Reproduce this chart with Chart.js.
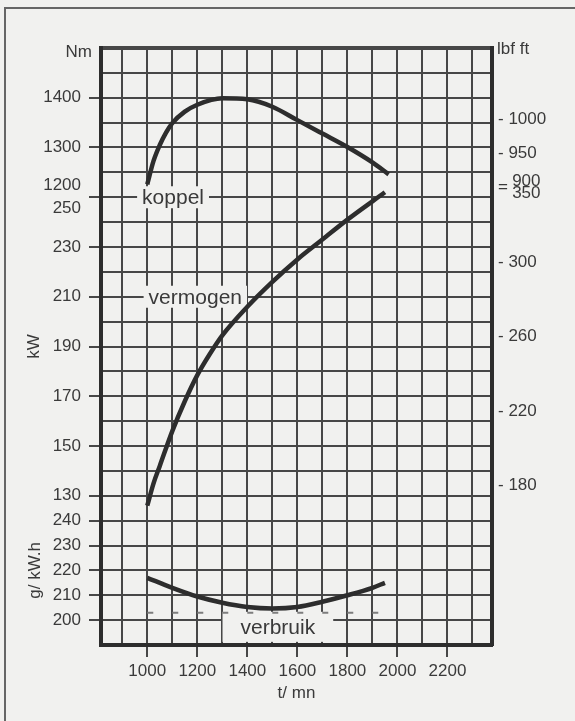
<!DOCTYPE html>
<html lang="nl">
<head>
<meta charset="UTF-8" />
<title>Koppel, vermogen en verbruik</title>
<script src="https://cdn.jsdelivr.net/npm/chart.js@4"></script>
<style>
  html, body { margin: 0; padding: 0; background: #f1f1ef; }
  .page { position: relative; width: 575px; height: 721px; overflow: hidden; }
  .frame { position: absolute; left: 4px; top: 7px; width: 600px; height: 740px;
           border-top: 2px solid #666; border-left: 2px solid #666; }
  canvas { position: absolute; left: 0; top: 0; }
</style>
</head>
<body>
<div class="page">
  <div class="frame"></div>
  <canvas id="chart" width="575" height="721"></canvas>
</div>
<script>
// curves (rpm -> value)
const koppelRpm = [1000, 1025, 1050, 1075, 1100, 1150, 1200, 1300, 1400, 1500, 1600, 1700, 1800, 1900, 1965];
const koppelNm = [1226, 1273, 1305, 1330, 1349, 1372, 1386, 1399, 1397, 1382, 1355, 1328, 1301, 1270, 1246];
const vermogenRpm = [1000, 1025, 1050, 1100, 1150, 1200, 1250, 1300, 1400, 1500, 1600, 1700, 1800, 1950];
const vermogenKw = [126, 135, 142, 156, 168, 178.5, 187, 194.5, 206, 216, 225, 233, 241, 252];
const verbruikRpm = [1000, 1100, 1200, 1300, 1400, 1500, 1600, 1700, 1800, 1900, 1950];
const verbruikG = [217, 213, 209.5, 207, 205.3, 204.7, 205.3, 207.4, 210, 213, 215];
const refRpm = [1000, 2000];
const refG = [203, 203];

// tick labels
const rpmTicks = [1000, 1200, 1400, 1600, 1800, 2000, 2200];
const nmTicks = [1200, 1300, 1400];
const kwTicks = [130, 150, 170, 190, 210, 230, 250];
const gTicks = [200, 210, 220, 230, 240];
const lbfTicks = [1000, 950];
const hpTicks = [300, 260, 220, 180];
const sharedTick = [900, 350]; // printed together on one mark

// axis ranges (all share the same 24 row grid)
const ROWS = 24;
const rpmRange = [815, 2378];
const nmRange = [300, 1500];
const kwRange = [70, 310];
const gRange = [190, 430];
const NM_PER_LBFFT = 1.3558;
const KW_PER_HP = 0.7457;

const INK = "#2d2d2d";
const GRID = "#474747";
const TEXT = "#3a3a3a";
const BG = "#f1f1ef";
const FONT = "'Liberation Sans', Arial, sans-serif";

function row(v, r) {
  return Math.round(((v - r[0]) / (r[1] - r[0])) * ROWS * 100) / 100;
}

const leftLabels = {};
function addLeft(j, text) {
  (leftLabels[j] = leftLabels[j] || []).push(text);
}
nmTicks.forEach((v) => addLeft(row(v, nmRange), String(v)));
kwTicks.forEach((v) => addLeft(row(v, kwRange), String(v)));
gTicks.forEach((v) => addLeft(row(v, gRange), String(v)));

const sharedRow = row(sharedTick[0] * NM_PER_LBFFT, nmRange);
const pad = "   ";
const rightTicks = [
  ...lbfTicks.map((v) => ({ j: row(v * NM_PER_LBFFT, nmRange), label: "- " + v })),
  ...hpTicks.map((v) => ({ j: row(v * KW_PER_HP, kwRange), label: "- " + v })),
  { j: sharedRow, label: "=" },
  { j: sharedRow, label: [pad + sharedTick[0], pad + sharedTick[1]] },
].sort((a, b) => a.j - b.j);

function pts(xs, ys) {
  return xs.map((x, i) => ({ x: x, y: ys[i] }));
}

const curveLabels = [
  { text: "koppel", rpm: 1103, value: 1200, axis: "yNm", padX: 5, padY: 11 },
  { text: "vermogen", rpm: 1192, value: 210, axis: "yKw", padX: 5, padY: 11 },
  { text: "verbruik", rpm: 1522, value: 197.3, axis: "yG", padX: 18, padY: 15 },
];

const labelPlugin = {
  id: "curveLabels",
  beforeDatasetsDraw(chart) {
    const { ctx, scales } = chart;
    ctx.save();
    ctx.font = "21px " + FONT;
    ctx.textAlign = "center";
    ctx.textBaseline = "middle";
    curveLabels.forEach((l) => {
      const x = scales.x.getPixelForValue(l.rpm);
      const y = scales[l.axis].getPixelForValue(l.value);
      const w = ctx.measureText(l.text).width;
      ctx.fillStyle = BG;
      ctx.fillRect(x - w / 2 - l.padX, y - l.padY, w + 2 * l.padX, 2 * l.padY);
      ctx.fillStyle = TEXT;
      ctx.fillText(l.text, x, y + 1);
    });
    ctx.restore();
  },
  afterDraw(chart) {
    const { ctx, chartArea, scales } = chart;
    ctx.save();
    ctx.font = "17px " + FONT;
    ctx.fillStyle = TEXT;
    ctx.textBaseline = "middle";
    ctx.textAlign = "right";
    ctx.fillText("Nm", chartArea.left - 9, chartArea.top + 4);
    ctx.textAlign = "left";
    ctx.fillText("lbf ft", chartArea.right + 5, chartArea.top + 1);

    const rot = (text, x, y) => {
      ctx.save();
      ctx.translate(x, y);
      ctx.rotate(-Math.PI / 2);
      ctx.textAlign = "center";
      ctx.fillText(text, 0, 0);
      ctx.restore();
    };
    rot("kW", chartArea.left - 67, scales.yKw.getPixelForValue(190));
    rot("g/ kW.h", chartArea.left - 66, scales.yG.getPixelForValue(220));
    ctx.restore();
  },
};

const lineStyle = {
  borderColor: INK,
  borderWidth: 4.5,
  pointRadius: 0,
  fill: false,
  cubicInterpolationMode: "monotone",
};

new Chart(document.getElementById("chart"), {
  type: "line",
  data: {
    datasets: [
      { label: "koppel", data: pts(koppelRpm, koppelNm), yAxisID: "yNm", ...lineStyle },
      { label: "vermogen", data: pts(vermogenRpm, vermogenKw), yAxisID: "yKw", ...lineStyle },
      { label: "verbruik", data: pts(verbruikRpm, verbruikG), yAxisID: "yG", ...lineStyle },
      {
        label: "ref",
        data: pts(refRpm, refG),
        yAxisID: "yG",
        borderColor: "#7d7d7d",
        borderWidth: 2,
        borderDash: [6, 19],
        pointRadius: 0,
        tension: 0,
      },
    ],
  },
  options: {
    responsive: false,
    animation: false,
    layout: { padding: { top: 48, left: 0, right: 0, bottom: 0 } },
    plugins: { legend: { display: false }, tooltip: { enabled: false } },
    scales: {
      x: {
        type: "linear",
        position: "bottom",
        min: rpmRange[0],
        max: rpmRange[1],
        afterFit: (s) => { s.height = 76; },
        ticks: {
          stepSize: 100,
          includeBounds: false,
          autoSkip: false,
          maxRotation: 0,
          padding: 4,
          color: TEXT,
          font: { family: FONT, size: 17 },
          callback: (v) => (rpmTicks.includes(v) ? String(v) : ""),
        },
        grid: {
          color: GRID,
          lineWidth: 2,
          tickLength: 12,
          tickWidth: 2,
          tickColor: (c) => (c.tick && rpmTicks.includes(c.tick.value) ? GRID : "transparent"),
        },
        border: { display: true, color: INK, width: 4 },
        title: {
          display: true,
          text: "t/ mn",
          color: TEXT,
          font: { family: FONT, size: 17 },
          padding: { top: 0, bottom: 17 },
        },
      },
      yGrid: {
        type: "linear",
        position: "left",
        min: 0,
        max: ROWS,
        afterFit: (s) => { s.width = 101; },
        ticks: {
          stepSize: 1,
          autoSkip: false,
          padding: 8,
          color: TEXT,
          font: { family: FONT, size: 17, lineHeight: 1.35 },
          callback: (v) => {
            const l = leftLabels[v];
            return l ? (l.length > 1 ? l : l[0]) : "";
          },
        },
        grid: {
          color: GRID,
          lineWidth: (c) => (c.tick && c.tick.value === ROWS ? 4 : 2),
          tickLength: 12,
          tickWidth: 2,
          tickColor: (c) => (c.tick && leftLabels[c.tick.value] ? GRID : "transparent"),
        },
        border: { display: true, color: INK, width: 4 },
      },
      yRight: {
        type: "linear",
        position: "right",
        min: 0,
        max: ROWS,
        afterFit: (s) => { s.width = 83; },
        afterBuildTicks: (s) => { s.ticks = rightTicks.map((t) => ({ value: t.j })); },
        ticks: {
          autoSkip: false,
          padding: 6,
          color: TEXT,
          font: { family: FONT, size: 17, lineHeight: 0.72 },
          callback: (v, i) => rightTicks[i].label,
        },
        grid: { drawOnChartArea: false, drawTicks: false },
        border: { display: true, color: INK, width: 4 },
      },
      yNm: { display: false, min: nmRange[0], max: nmRange[1] },
      yKw: { display: false, min: kwRange[0], max: kwRange[1] },
      yG: { display: false, min: gRange[0], max: gRange[1] },
    },
  },
  plugins: [labelPlugin],
});
</script>
</body>
</html>
